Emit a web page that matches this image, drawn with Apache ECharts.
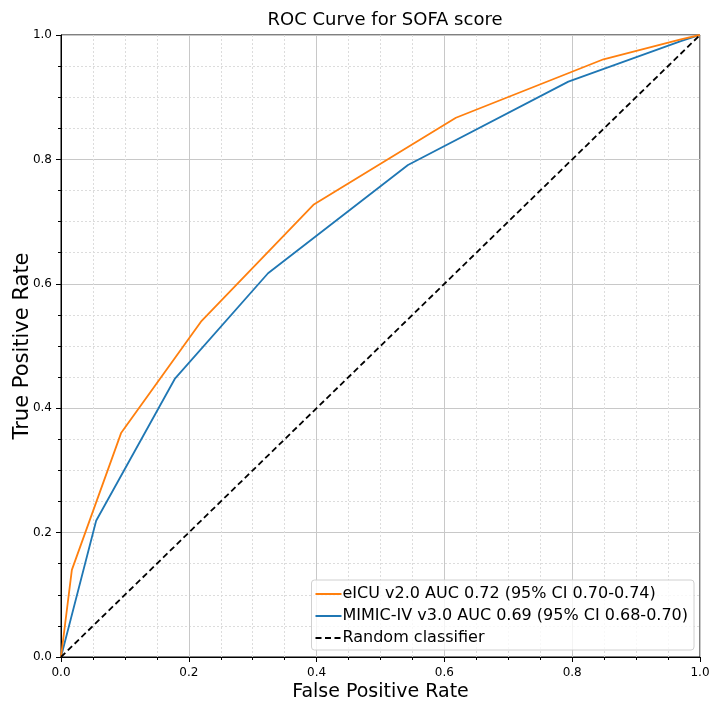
<!DOCTYPE html>
<html><head><meta charset="utf-8">
<script src="https://cdn.jsdelivr.net/npm/echarts@6/dist/echarts.min.js"></script>
<style>html,body{margin:0;padding:0;background:#fff}#c{width:711px;height:702px}</style>
</head><body><div id="c"></div>
<script>
const eicuFPR = [0, 0.017, 0.094, 0.219, 0.395, 0.618, 0.849, 0.97, 1];
const eicuTPR = [0, 0.140, 0.360, 0.539, 0.727, 0.867, 0.961, 0.993, 1];
const mimicFPR = [0, 0.055, 0.178, 0.324, 0.543, 0.794, 0.97, 1];
const mimicTPR = [0, 0.219, 0.447, 0.617, 0.791, 0.925, 0.99, 1];
const randFPR = [0, 1];
const randTPR = [0, 1];
const seriesNames = ['eICU v2.0 AUC 0.72 (95% CI 0.70-0.74)', 'MIMIC-IV v3.0 AUC 0.69 (95% CI 0.68-0.70)', 'Random classifier'];
const tickLabels = ['0.0', '0.2', '0.4', '0.6', '0.8', '1.0'];

const zip = (a, b) => a.map((v, i) => [v, b[i]]);
const font = 'DejaVu Sans';
const axisCommon = {
  min: 0, max: 1, interval: 0.2,
  axisLine: {show: true, lineStyle: {color: '#000', width: 1}},
  axisTick: {show: true, length: 5, inside: false, lineStyle: {color: '#000'}},
  minorTick: {show: true, splitNumber: 4, length: 3, lineStyle: {color: '#000'}},
  splitLine: {show: true, lineStyle: {color: '#c8c8c8', width: 1}},
  minorSplitLine: {show: true, lineStyle: {color: '#dcdcdc', width: 1, type: [2, 2]}},
  axisLabel: {color: '#000', fontFamily: font, fontSize: 12,
    formatter: v => tickLabels[Math.round(v * 5)]},
  nameLocation: 'middle',
  nameMoveOverlap: false,
  nameTextStyle: {color: '#000', fontFamily: font, fontSize: 19}
};
const chart = echarts.init(document.getElementById('c'), null, {renderer: 'canvas'});
chart.setOption({
  animation: false,
  backgroundColor: '#fff',
  title: {text: 'ROC Curve for SOFA score', left: 380, top: 6, textAlign: 'center',
    textStyle: {fontFamily: font, fontSize: 18, fontWeight: 'normal', color: '#000'}},
  grid: {left: 61, right: 11, top: 35, bottom: 45, show: true, borderColor: '#000', borderWidth: 1,
    containLabel: false, outerBoundsMode: 'none'},
  xAxis: Object.assign({}, axisCommon, {type: 'value', name: 'False Positive Rate', nameGap: 26,
    axisLabel: Object.assign({}, axisCommon.axisLabel, {margin: 10})}),
  yAxis: Object.assign({}, axisCommon, {type: 'value', name: 'True Positive Rate', nameGap: 28,
    nameTextStyle: {color: '#000', fontFamily: font, fontSize: 21},
    axisLabel: Object.assign({}, axisCommon.axisLabel, {margin: 9})}),
  legend: {
    orient: 'vertical', right: 17, bottom: 52,
    data: seriesNames,
    backgroundColor: 'rgba(255,255,255,0.8)', borderColor: '#d0d0d0', borderWidth: 1, borderRadius: 3,
    padding: [6, 6, 4, 3], itemGap: 6, itemWidth: 26, itemHeight: 16,
    itemStyle: {opacity: 0},
    textStyle: {fontFamily: font, fontSize: 16, color: '#000', padding: [0, 0, 0, -4]}
  },
  series: [
    {name: seriesNames[1], type: 'line', data: zip(mimicFPR, mimicTPR), showSymbol: false, symbol: 'none',
      lineStyle: {color: '#1f77b4', width: 1.8}, itemStyle: {color: '#1f77b4'}, z: 3},
    {name: seriesNames[0], type: 'line', data: zip(eicuFPR, eicuTPR), showSymbol: false, symbol: 'none',
      lineStyle: {color: '#ff7f0e', width: 1.8}, itemStyle: {color: '#ff7f0e'}, z: 4},
    {name: seriesNames[2], type: 'line', data: zip(randFPR, randTPR), showSymbol: false, symbol: 'none',
      lineStyle: {color: '#000', width: 1.8, type: [6, 3.5]}, itemStyle: {color: '#000'}, z: 5}
  ]
});
</script></body></html>
